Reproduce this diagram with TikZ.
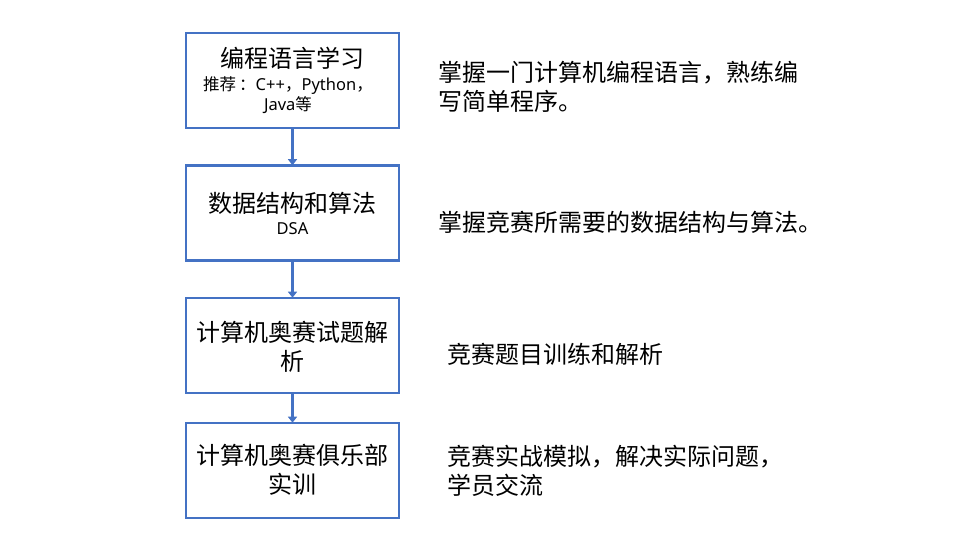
\documentclass[tikz,border=0pt]{standalone}
\usepackage{fontspec}
\setmainfont{Noto Sans CJK SC}
\newfontfamily\latinf{Noto Sans}
\usetikzlibrary{arrows.meta}
\definecolor{boxblue}{HTML}{4472C4}
\tikzset{
  stepbox/.style={draw=boxblue, line width=2.6pt, fill=white, minimum width=213pt, minimum height=95pt, inner sep=0pt},
  big/.style={font=\fontsize{24}{29}\selectfont},
  small/.style={font=\fontsize{16.5}{20}\selectfont},
  desc/.style={font=\fontsize{24}{29}\selectfont, anchor=west, align=left, inner sep=0pt},
  link/.style={draw=boxblue, line width=2.6pt, -{Triangle[length=6pt,width=9pt]}, shorten >=-1pt}
}
\begin{document}
\begin{tikzpicture}[x=1pt,y=-1pt]
\useasboundingbox (0,0) rectangle (960,540);
\node[stepbox] (b1) at (292.5,80.5) {};
\node[stepbox] (b2) at (292.5,213) {};
\node[stepbox] (b3) at (292.5,345.5) {};
\node[stepbox] (b4) at (292.5,470.5) {};
\node[big, inner sep=0pt] (t1) at (292.5,58) {编程语言学习};
\node[small, align=center, inner sep=0pt] (s1) at (288,95) {推荐\hspace{3pt}：{\latinf C++}，{\latinf Python}，\\{\latinf Java}等};
\node[big, inner sep=0pt] (t2) at (292.5,203) {数据结构和算法};
\node[small, inner sep=0pt] (s2) at (292.5,229) {\latinf DSA};
\node[big, align=center, inner sep=0pt] (t3) at (292.5,347) {计算机奥赛试题解\\析};
\node[big, align=center, inner sep=0pt] (t4) at (292.5,470) {计算机奥赛俱乐部\\实训};
\draw[link] (b1.south) -- (b2.north);
\draw[link] (b2.south) -- (b3.north);
\draw[link] (b3.south) -- (b4.north);
\node[desc] (d1) at (438,87) {掌握一门计算机编程语言，熟练编\\写简单程序。};
\node[desc] (d2) at (438,222) {掌握竞赛所需要的数据结构与算法。};
\node[desc] (d3) at (447,354) {竞赛题目训练和解析};
\node[desc] (d4) at (447,471) {竞赛实战模拟，解决实际问题，\\学员交流};
\end{tikzpicture}
\end{document}
